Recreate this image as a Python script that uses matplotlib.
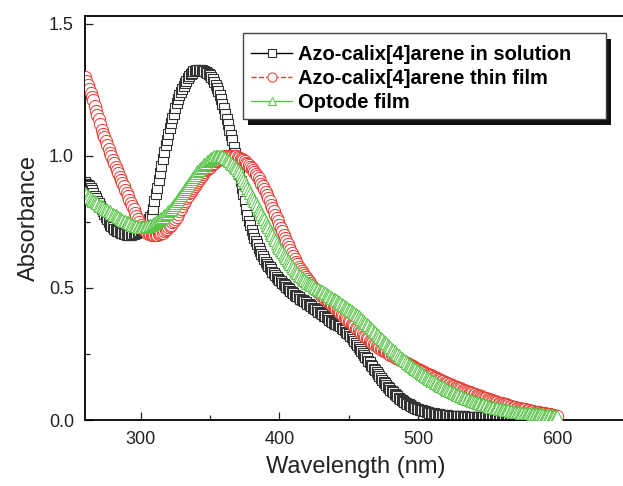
import numpy as np
import matplotlib
matplotlib.use("Agg")
import matplotlib.pyplot as plt
from matplotlib.patches import Rectangle
from matplotlib.ticker import MultipleLocator, FormatStrFormatter

plt.rcParams["font.family"] = ["Liberation Sans", "DejaVu Sans"]

# Wavelength grid (nm), one reading per nm
wavelength = np.arange(260, 601, 1)

solution = [
    0.90, 0.895, 0.89, 0.885, 0.88, 0.87, 0.86, 0.85, 0.84, 0.83,
    0.82, 0.81, 0.80, 0.79, 0.78, 0.77, 0.76, 0.75, 0.74, 0.735,
    0.73, 0.725, 0.72, 0.717, 0.715, 0.712, 0.71, 0.708, 0.705, 0.703,
    0.70, 0.70, 0.70, 0.70, 0.703, 0.705, 0.708, 0.71, 0.712, 0.715,
    0.72, 0.725, 0.73, 0.738, 0.745, 0.752, 0.76, 0.768, 0.775, 0.80,
    0.83, 0.855, 0.88, 0.908, 0.935, 0.962, 0.99, 1.015, 1.04, 1.062,
    1.085, 1.105, 1.125, 1.142, 1.16, 1.18, 1.20, 1.215, 1.23, 1.243,
    1.255, 1.265, 1.275, 1.285, 1.295, 1.303, 1.31, 1.315, 1.32, 1.322,
    1.325, 1.325, 1.325, 1.325, 1.325, 1.322, 1.32, 1.318, 1.315, 1.31,
    1.305, 1.298, 1.29, 1.28, 1.27, 1.258, 1.245, 1.23, 1.215, 1.198,
    1.18, 1.16, 1.14, 1.12, 1.10, 1.08, 1.06, 1.035, 1.01, 0.985,
    0.96, 0.932, 0.905, 0.88, 0.855, 0.828, 0.80, 0.778, 0.755, 0.738,
    0.72, 0.705, 0.69, 0.678, 0.665, 0.652, 0.64, 0.63, 0.62, 0.61,
    0.60, 0.592, 0.585, 0.578, 0.57, 0.562, 0.555, 0.548, 0.54, 0.535,
    0.53, 0.525, 0.52, 0.515, 0.51, 0.505, 0.50, 0.495, 0.49, 0.485,
    0.48, 0.475, 0.47, 0.468, 0.465, 0.46, 0.455, 0.453, 0.45, 0.445,
    0.44, 0.438, 0.435, 0.43, 0.425, 0.423, 0.42, 0.415, 0.41, 0.408,
    0.405, 0.40, 0.395, 0.393, 0.39, 0.385, 0.38, 0.375, 0.37, 0.368,
    0.365, 0.363, 0.36, 0.358, 0.355, 0.35, 0.345, 0.34, 0.335, 0.33,
    0.325, 0.32, 0.315, 0.308, 0.30, 0.293, 0.285, 0.278, 0.27, 0.263,
    0.255, 0.248, 0.24, 0.233, 0.225, 0.218, 0.21, 0.203, 0.195, 0.188,
    0.18, 0.173, 0.165, 0.158, 0.15, 0.145, 0.14, 0.133, 0.125, 0.12,
    0.115, 0.11, 0.105, 0.10, 0.095, 0.09, 0.085, 0.08, 0.075, 0.072,
    0.068, 0.065, 0.062, 0.059, 0.056, 0.053, 0.05, 0.048, 0.045, 0.043,
    0.04, 0.039, 0.037, 0.036, 0.034, 0.033, 0.031, 0.03, 0.028, 0.027,
    0.026, 0.025, 0.024, 0.023, 0.022, 0.021, 0.02, 0.02, 0.019, 0.019,
    0.018, 0.018, 0.017, 0.017, 0.016, 0.016, 0.015, 0.015, 0.015, 0.015,
    0.014, 0.014, 0.014, 0.014, 0.013, 0.013, 0.013, 0.013, 0.012, 0.012,
    0.012, 0.012, 0.011, 0.011, 0.011, 0.011, 0.011, 0.011, 0.010, 0.010,
    0.010, 0.010, 0.010, 0.010, 0.010, 0.010, 0.010, 0.010, 0.009, 0.009,
    0.009, 0.009, 0.009, 0.009, 0.008, 0.008, 0.008, 0.008, 0.008, 0.008,
    0.008, 0.008, 0.007, 0.007, 0.007, 0.007, 0.007, 0.007, 0.007, 0.007,
    0.006, 0.006, 0.006, 0.006, 0.006, 0.006, 0.006, 0.006, 0.006, 0.006,
    0.005, 0.005, 0.005, 0.005, 0.005, 0.005, 0.005, 0.005, 0.005, 0.005,
    0.005,
]

thin_film = [
    1.30, 1.285, 1.27, 1.255, 1.24, 1.225, 1.21, 1.19, 1.17, 1.155,
    1.14, 1.12, 1.10, 1.085, 1.07, 1.055, 1.04, 1.025, 1.01, 0.998,
    0.985, 0.972, 0.96, 0.948, 0.935, 0.922, 0.91, 0.898, 0.885, 0.872,
    0.86, 0.848, 0.835, 0.822, 0.81, 0.798, 0.785, 0.772, 0.76, 0.75,
    0.74, 0.732, 0.725, 0.72, 0.715, 0.71, 0.705, 0.703, 0.70, 0.70,
    0.70, 0.70, 0.70, 0.703, 0.705, 0.708, 0.71, 0.715, 0.72, 0.725,
    0.73, 0.735, 0.74, 0.748, 0.755, 0.762, 0.77, 0.78, 0.79, 0.80,
    0.81, 0.82, 0.83, 0.84, 0.85, 0.858, 0.865, 0.872, 0.88, 0.888,
    0.895, 0.902, 0.91, 0.918, 0.925, 0.932, 0.94, 0.945, 0.95, 0.955,
    0.96, 0.965, 0.97, 0.975, 0.98, 0.982, 0.985, 0.988, 0.99, 0.993,
    0.995, 0.998, 1.00, 1.00, 1.00, 1.00, 1.00, 1.00, 1.00, 0.998,
    0.995, 0.993, 0.99, 0.988, 0.985, 0.98, 0.975, 0.97, 0.965, 0.96,
    0.955, 0.948, 0.94, 0.932, 0.925, 0.915, 0.905, 0.895, 0.885, 0.875,
    0.865, 0.852, 0.84, 0.828, 0.815, 0.802, 0.79, 0.778, 0.765, 0.752,
    0.74, 0.728, 0.715, 0.702, 0.69, 0.678, 0.665, 0.655, 0.645, 0.632,
    0.62, 0.61, 0.60, 0.59, 0.58, 0.572, 0.565, 0.558, 0.55, 0.542,
    0.535, 0.528, 0.52, 0.512, 0.505, 0.50, 0.495, 0.49, 0.485, 0.48,
    0.475, 0.47, 0.465, 0.46, 0.455, 0.45, 0.445, 0.44, 0.435, 0.43,
    0.425, 0.42, 0.415, 0.41, 0.405, 0.40, 0.395, 0.39, 0.385, 0.38,
    0.375, 0.37, 0.365, 0.36, 0.355, 0.35, 0.345, 0.34, 0.335, 0.33,
    0.325, 0.32, 0.315, 0.31, 0.305, 0.301, 0.297, 0.293, 0.289, 0.285,
    0.281, 0.277, 0.273, 0.27, 0.266, 0.263, 0.26, 0.257, 0.254, 0.251,
    0.248, 0.245, 0.242, 0.239, 0.236, 0.233, 0.23, 0.228, 0.225, 0.223,
    0.22, 0.217, 0.214, 0.211, 0.208, 0.206, 0.203, 0.2, 0.197, 0.195,
    0.192, 0.189, 0.186, 0.184, 0.181, 0.179, 0.176, 0.174, 0.171, 0.169,
    0.166, 0.164, 0.161, 0.159, 0.156, 0.154, 0.151, 0.149, 0.146, 0.144,
    0.142, 0.14, 0.137, 0.135, 0.133, 0.13, 0.128, 0.126, 0.124, 0.122,
    0.12, 0.118, 0.115, 0.113, 0.111, 0.109, 0.107, 0.105, 0.103, 0.101,
    0.099, 0.097, 0.095, 0.093, 0.091, 0.089, 0.087, 0.085, 0.083, 0.082,
    0.08, 0.078, 0.076, 0.075, 0.073, 0.071, 0.069, 0.068, 0.066, 0.065,
    0.063, 0.062, 0.06, 0.059, 0.057, 0.056, 0.054, 0.053, 0.051, 0.05,
    0.048, 0.047, 0.046, 0.045, 0.043, 0.042, 0.041, 0.04, 0.038, 0.037,
    0.036, 0.035, 0.034, 0.033, 0.032, 0.031, 0.03, 0.029, 0.028, 0.027,
    0.026, 0.025, 0.024, 0.023, 0.022, 0.021, 0.02, 0.019, 0.018, 0.017,
    0.016,
]

optode = [
    0.86, 0.855, 0.85, 0.845, 0.84, 0.835, 0.83, 0.828, 0.825, 0.82,
    0.815, 0.812, 0.81, 0.805, 0.80, 0.798, 0.795, 0.792, 0.79, 0.785,
    0.78, 0.778, 0.775, 0.772, 0.77, 0.765, 0.76, 0.758, 0.755, 0.752,
    0.75, 0.748, 0.745, 0.742, 0.74, 0.738, 0.735, 0.734, 0.732, 0.731,
    0.73, 0.73, 0.73, 0.731, 0.732, 0.733, 0.735, 0.738, 0.74, 0.742,
    0.745, 0.748, 0.752, 0.756, 0.76, 0.765, 0.77, 0.775, 0.78, 0.785,
    0.79, 0.795, 0.80, 0.808, 0.815, 0.822, 0.83, 0.838, 0.845, 0.852,
    0.86, 0.868, 0.875, 0.882, 0.89, 0.898, 0.905, 0.912, 0.92, 0.928,
    0.935, 0.942, 0.948, 0.954, 0.96, 0.965, 0.97, 0.975, 0.98, 0.985,
    0.99, 0.993, 0.995, 0.998, 1.00, 1.00, 1.00, 1.00, 1.00, 0.998,
    0.995, 0.993, 0.99, 0.985, 0.98, 0.975, 0.97, 0.965, 0.96, 0.953,
    0.945, 0.938, 0.93, 0.92, 0.91, 0.90, 0.89, 0.88, 0.87, 0.86,
    0.85, 0.84, 0.83, 0.82, 0.81, 0.80, 0.79, 0.78, 0.77, 0.76,
    0.75, 0.74, 0.73, 0.72, 0.71, 0.70, 0.69, 0.68, 0.67, 0.66,
    0.65, 0.643, 0.635, 0.628, 0.62, 0.613, 0.605, 0.598, 0.59, 0.583,
    0.575, 0.568, 0.56, 0.555, 0.55, 0.545, 0.54, 0.535, 0.53, 0.525,
    0.52, 0.518, 0.515, 0.512, 0.51, 0.505, 0.50, 0.498, 0.495, 0.493,
    0.49, 0.487, 0.483, 0.48, 0.476, 0.473, 0.47, 0.467, 0.463, 0.46,
    0.457, 0.453, 0.45, 0.447, 0.443, 0.44, 0.436, 0.432, 0.428, 0.424,
    0.42, 0.416, 0.412, 0.408, 0.404, 0.40, 0.396, 0.392, 0.388, 0.383,
    0.378, 0.373, 0.368, 0.363, 0.358, 0.353, 0.348, 0.343, 0.337, 0.332,
    0.326, 0.321, 0.315, 0.31, 0.305, 0.30, 0.295, 0.29, 0.285, 0.28,
    0.275, 0.27, 0.265, 0.26, 0.255, 0.25, 0.245, 0.24, 0.235, 0.231,
    0.226, 0.222, 0.217, 0.213, 0.208, 0.204, 0.2, 0.196, 0.192, 0.188,
    0.184, 0.181, 0.177, 0.174, 0.17, 0.167, 0.163, 0.16, 0.156, 0.153,
    0.149, 0.146, 0.142, 0.139, 0.136, 0.133, 0.13, 0.127, 0.124, 0.121,
    0.118, 0.115, 0.112, 0.11, 0.107, 0.105, 0.102, 0.1, 0.097, 0.095,
    0.092, 0.09, 0.087, 0.085, 0.083, 0.081, 0.079, 0.077, 0.075, 0.073,
    0.071, 0.069, 0.067, 0.065, 0.063, 0.062, 0.06, 0.059, 0.057, 0.056,
    0.054, 0.053, 0.051, 0.05, 0.048, 0.047, 0.045, 0.044, 0.043, 0.042,
    0.041, 0.04, 0.039, 0.038, 0.037, 0.036, 0.035, 0.034, 0.033, 0.032,
    0.031, 0.03, 0.029, 0.029, 0.028, 0.028, 0.027, 0.027, 0.026, 0.026,
    0.025, 0.025, 0.024, 0.024, 0.023, 0.023, 0.022, 0.022, 0.021, 0.021,
    0.02, 0.02, 0.019, 0.019, 0.018, 0.018, 0.017, 0.017, 0.016, 0.016,
    0.015,
]

labels = [
    "Azo-calix[4]arene in solution",
    "Azo-calix[4]arene thin film",
    "Optode film",
]

W, H = 623, 486
fig = plt.figure(figsize=(W / 100, H / 100), dpi=100)
ax = fig.add_axes([85 / W, 66 / H, 541.5 / W, 404 / H])

ax.plot(wavelength, solution, color="black", lw=1.0, ls="-",
        marker="s", ms=7.0, mfc="white", mec="#333333", mew=0.8,
        label=labels[0], zorder=2)
ax.plot(wavelength, thin_film, color="#e8392d", lw=1.0, ls="--",
        marker="o", ms=8.8, mfc="white", mec="#e8392d", mew=0.7,
        label=labels[1], zorder=3)
ax.plot(wavelength, optode, color="#55c544", lw=1.0, ls="-",
        marker="^", ms=8.6, mfc="white", mec="#55c544", mew=0.7,
        label=labels[2], zorder=4)

ax.set_xlim(260, 650)
ax.set_ylim(0, 1.53)
ax.xaxis.set_major_locator(MultipleLocator(100))
ax.xaxis.set_minor_locator(MultipleLocator(50))
ax.yaxis.set_major_locator(MultipleLocator(0.5))
ax.yaxis.set_minor_locator(MultipleLocator(0.25))
ax.yaxis.set_major_formatter(FormatStrFormatter("%.1f"))

for side in ("left", "bottom", "top"):
    ax.spines[side].set_linewidth(1.3)
ax.spines["right"].set_visible(False)
ax.tick_params(which="major", direction="in", length=6, width=0.9,
               labelsize=13, pad=8, top=False, right=False, colors="#222222")
ax.tick_params(which="minor", direction="in", length=3.6, width=0.9,
               top=False, right=False, colors="#222222")

ax.set_xlabel("Wavelength (nm)", fontsize=17, color="#222222", labelpad=6)
ax.set_ylabel("Absorbance", fontsize=17, color="#222222", labelpad=6)

leg = ax.legend(loc="upper left", bbox_to_anchor=(251 / W, 1 - 45 / H),
                bbox_transform=fig.transFigure,
                prop={"weight": "bold", "size": 14.5}, frameon=False,
                handlelength=2.05, handletextpad=0.3, labelspacing=0.24,
                borderpad=0.0, borderaxespad=0.0, markerscale=0.75)
leg.set_zorder(10)

# Legend box with a solid drop shadow
box = (243, 33, 606, 119)  # left, top, right, bottom in pixels
bx, by = box[0] / W, 1 - box[3] / H
bw, bh = (box[2] - box[0]) / W, (box[3] - box[1]) / H
ax.add_artist(Rectangle((bx + 5 / W, by - 6 / H), bw, bh,
                        transform=fig.transFigure, facecolor="#111111",
                        edgecolor="none", zorder=8, clip_on=False))
ax.add_artist(Rectangle((bx, by), bw, bh, transform=fig.transFigure,
                        facecolor="white", edgecolor="#444444", lw=1.0,
                        zorder=9, clip_on=False))

fig.savefig("out.png", dpi=100)
